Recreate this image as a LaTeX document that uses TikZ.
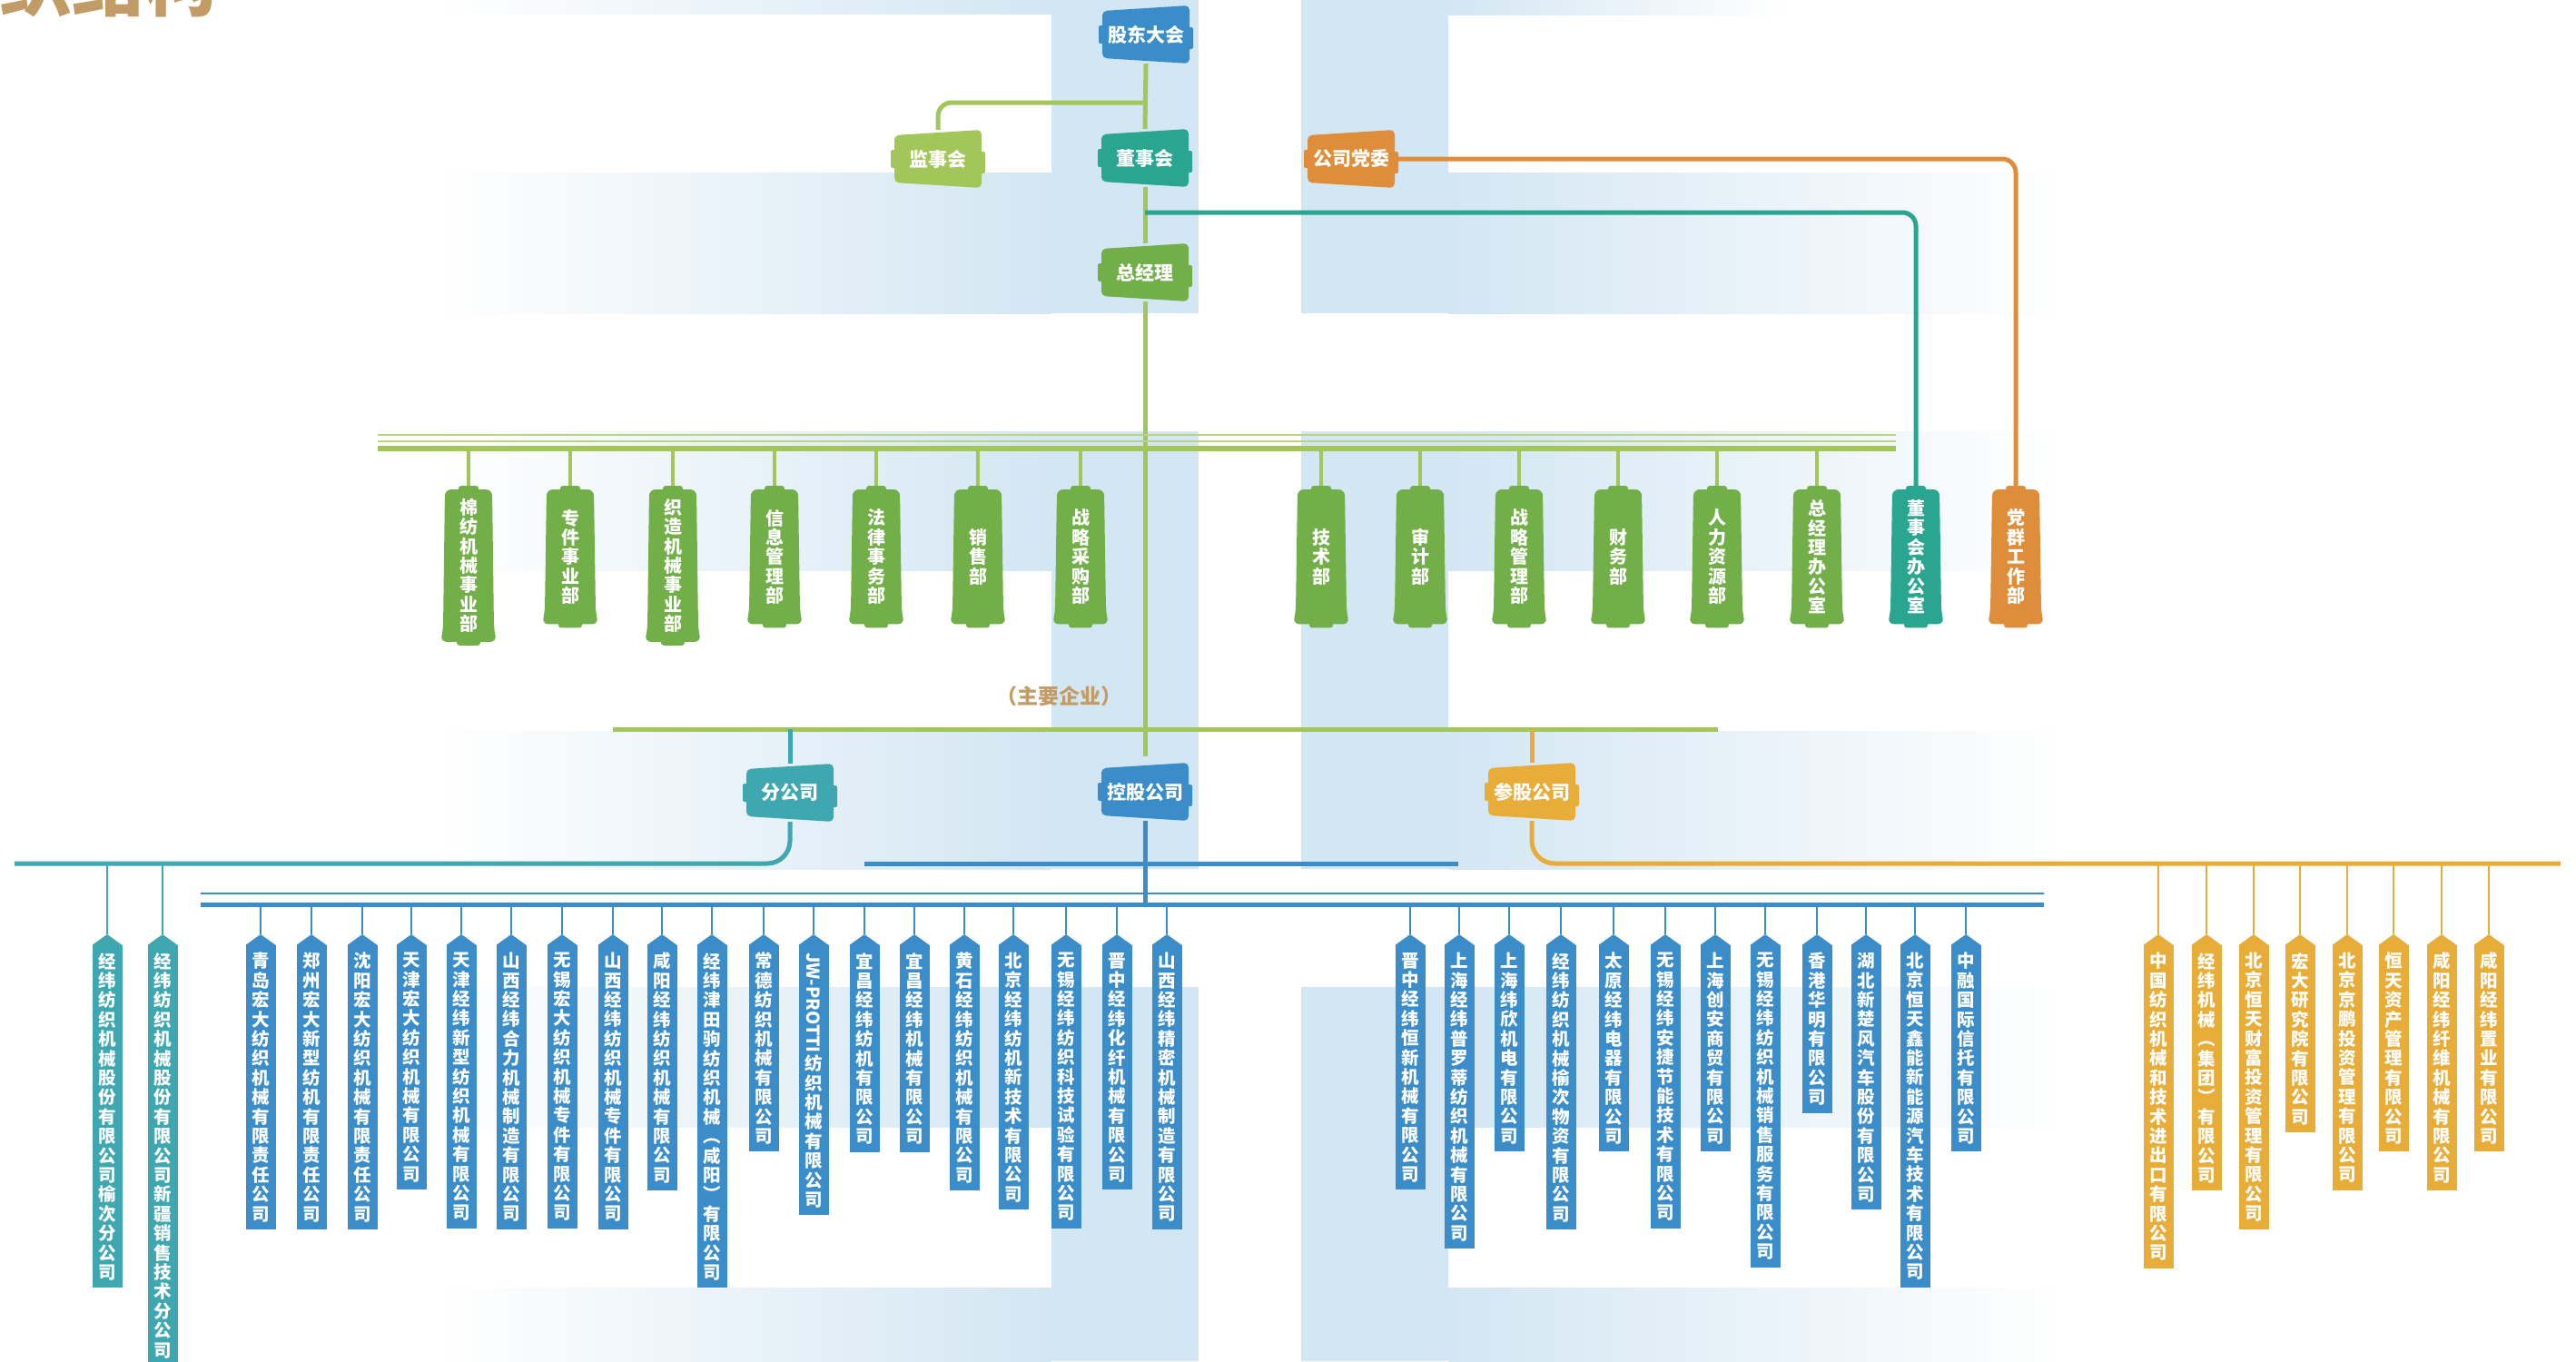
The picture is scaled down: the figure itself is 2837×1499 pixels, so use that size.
\documentclass[tikz,border=0pt]{standalone}
\usepackage{fontspec}
\setmainfont{Noto Sans CJK SC}
\usepackage{graphicx}
\usetikzlibrary{calc}
\pgfdeclarelayer{back}\pgfdeclarelayer{lines}\pgfdeclarelayer{shapes}
\pgfsetlayers{back,lines,shapes,main}
\definecolor{cblue}{HTML}{3A8DC8}
\definecolor{cteal}{HTML}{3FA7B0}
\definecolor{cteal2}{HTML}{2AA58F}
\definecolor{cgreenL}{HTML}{A3C65B}
\definecolor{cgreenD}{HTML}{72AF48}
\definecolor{corange}{HTML}{DE8E3B}
\definecolor{cyel}{HTML}{E8AC38}
\definecolor{ctan}{HTML}{C29C66}
\definecolor{bgb}{HTML}{D3E6F3}
\makeatletter
\newcommand\vst[1]{\vbox{\baselineskip=21.4pt\lineskiplimit=0pt\lineskip=2pt\@tfor\vs@c:=#1\do{\hbox to 1.05em{\hss\vs@c\hss}}}}
\makeatother
\tikzset{
  tabtext/.style={inner sep=0pt, minimum width=97pt, minimum height=64pt, text=white, font=\fontsize{21}{22}\selectfont\bfseries},
  depttext/.style={inner xsep=0pt, inner ysep=10pt, minimum width=54pt, minimum height=148pt, text=white, font=\fontsize{20}{21}\selectfont\bfseries},
  comptext/.style={inner xsep=0pt, inner ysep=8pt, minimum width=33pt, text=white, font=\fontsize{19.5}{21}\selectfont\bfseries},
  gline/.style={draw=cgreenL, line width=5pt},
  gstem/.style={draw=cgreenL, line width=4pt},
  gthin/.style={draw=cgreenL!75, line width=2.5pt},
  tline/.style={draw=cteal, line width=5pt},
  tstem/.style={draw=cteal, line width=2.5pt},
  t2line/.style={draw=cteal2, line width=5pt},
  oline/.style={draw=corange, line width=5pt},
  yline/.style={draw=cyel, line width=5pt},
  ystem/.style={draw=cyel, line width=2.5pt},
  bline/.style={draw=cblue, line width=5pt},
  bthin/.style={draw=cblue, line width=2pt},
  bstem/.style={draw=cblue, line width=2.5pt},
}
\newcommand\tablet[5]{%
  \node[tabtext] (#1) at (#2,#3) {#5};
  \begin{pgfonlayer}{shapes}
  \fill[#4, rounded corners=5pt, shift={(#1.center)}] (-48,-26) -- (48,-32) -- (48,32) -- (-48,26) -- cycle;
  \fill[#4, rounded corners=2pt, shift={(#1.center)}] (-52,-10) rectangle (-44,10);
  \fill[#4, rounded corners=2pt, shift={(#1.center)}] (44,-8) rectangle (52,16);
  \end{pgfonlayer}}
\newcommand\dept[4]{%
  \node[depttext, anchor=north] (#1) at (#2,539) {\vst{#4}};
  \begin{pgfonlayer}{shapes}
  \fill[#3, rounded corners=7pt] ([xshift=-26pt]#1.north) -- ([xshift=26pt]#1.north) -- ([xshift=28pt,yshift=14pt]#1.south) -- ([xshift=31pt]#1.south) -- ([xshift=-31pt]#1.south) -- ([xshift=-28pt,yshift=14pt]#1.south) -- cycle;
  \fill[#3, rounded corners=3pt] ([xshift=-11pt, yshift=4pt]#1.north) rectangle ([xshift=11pt,yshift=-6pt]#1.north);
  \fill[#3, rounded corners=3pt] ([xshift=-13pt, yshift=6pt]#1.south) rectangle ([xshift=13pt,yshift=-4pt]#1.south);
  \end{pgfonlayer}}
\newcommand\comp[4]{%
  \node[comptext, fill=#3, anchor=north] (#1) at (#2,1041) {\vst{#4}};
  \fill[#3] (#1.north west) -- ([yshift=12pt]#1.north) -- (#1.north east) -- cycle;}
\begin{document}
\begin{tikzpicture}[x=1pt, y=-1pt]
\useasboundingbox (0,0) rectangle (2837,1499);
% background
\begin{pgfonlayer}{back}
\fill[white] (0,0) rectangle (2837,1499);
\shade[left color=white, right color=bgb] (477,0) rectangle (1158,15);
\shade[left color=bgb, right color=white] (1595,0) rectangle (1970,16);
\foreach \a/\b in {190/345, 475/628, 805/957, 1087/1241, 1418/1499} {
  \shade[left color=white, right color=bgb] (477,\a) rectangle (1158,\b);
  \shade[left color=bgb, right color=white] (1595,\a) rectangle (2276,\b);
}
\foreach \a/\b in {0/345, 475/957, 1087/1499} {
  \fill[bgb] (1158,\a) rectangle (1320,\b);
  \fill[bgb] (1433,\a) rectangle (1595,\b);
}
\end{pgfonlayer}
% title
\node[anchor=base east, text=ctan, font=\fontsize{80}{80}\selectfont\bfseries, inner sep=0pt] (title) at (240,12) {组织结构};
% top nodes
\tablet{gudong}{1262}{38}{cblue}{股东大会}
\tablet{jianshi}{1033}{175}{cgreenL}{监事会}
\tablet{dongshi}{1261}{174}{cteal2}{董事会}
\tablet{dangwei}{1488}{175}{corange}{公司党委}
\tablet{zjl}{1261}{300}{cgreenD}{总经理}
\tablet{fen}{870}{873}{cteal}{分公司}
\tablet{konggu}{1261}{872}{cblue}{控股公司}
\tablet{cangu}{1687}{872}{cyel}{参股公司}
\node[text=ctan, font=\fontsize{23}{24}\selectfont\bfseries] (zyqy) at (1166,767) {（主要企业）};
% departments
\dept{d1}{516}{cgreenD}{棉纺机械事业部}
\dept{d2}{628}{cgreenD}{专件事业部}
\dept{d3}{741}{cgreenD}{织造机械事业部}
\dept{d4}{853}{cgreenD}{信息管理部}
\dept{d5}{965}{cgreenD}{法律事务部}
\dept{d6}{1077}{cgreenD}{销售部}
\dept{d7}{1190}{cgreenD}{战略采购部}
\dept{d8}{1455}{cgreenD}{技术部}
\dept{d9}{1564}{cgreenD}{审计部}
\dept{d10}{1673}{cgreenD}{战略管理部}
\dept{d11}{1782}{cgreenD}{财务部}
\dept{d12}{1891}{cgreenD}{人力资源部}
\dept{d13}{2001}{cgreenD}{总经理办公室}
\dept{d14}{2110}{cteal2}{董事会办公室}
\dept{d15}{2220}{corange}{党群工作部}
% branch companies
\comp{t1}{118}{cteal}{经纬纺织机械股份有限公司榆次分公司}
\comp{t2}{179}{cteal}{经纬纺织机械股份有限公司新疆销售技术分公司}
% holding companies
\comp{b1}{287}{cblue}{青岛宏大纺织机械有限责任公司}
\comp{b2}{343}{cblue}{郑州宏大新型纺机有限责任公司}
\comp{b3}{399}{cblue}{沈阳宏大纺织机械有限责任公司}
\comp{b4}{453}{cblue}{天津宏大纺织机械有限公司}
\comp{b5}{508}{cblue}{天津经纬新型纺织机械有限公司}
\comp{b6}{563}{cblue}{山西经纬合力机械制造有限公司}
\comp{b7}{619}{cblue}{无锡宏大纺织机械专件有限公司}
\comp{b8}{675}{cblue}{山西经纬纺织机械专件有限公司}
\comp{b9}{729}{cblue}{咸阳经纬纺织机械有限公司}
\comp{b10}{784}{cblue}{经纬津田驹纺织机械︵咸阳︶有限公司}
\comp{b11}{841}{cblue}{常德纺织机械有限公司}
\comp{b12}{896}{cblue}{{\rotatebox[origin=c]{-90}{JW-PROTTI}}纺织机械有限公司}
\comp{b13}{952}{cblue}{宜昌经纬纺机有限公司}
\comp{b14}{1007}{cblue}{宜昌经纬机械有限公司}
\comp{b15}{1062}{cblue}{黄石经纬纺织机械有限公司}
\comp{b16}{1116}{cblue}{北京经纬纺机新技术有限公司}
\comp{b17}{1174}{cblue}{无锡经纬纺织科技试验有限公司}
\comp{b18}{1230}{cblue}{晋中经纬化纤机械有限公司}
\comp{b19}{1285}{cblue}{山西经纬精密机械制造有限公司}
\comp{r1}{1553}{cblue}{晋中经纬恒新机械有限公司}
\comp{r2}{1607}{cblue}{上海经纬普罗蒂纺织机械有限公司}
\comp{r3}{1662}{cblue}{上海纬欣机电有限公司}
\comp{r4}{1719}{cblue}{经纬纺织机械榆次物资有限公司}
\comp{r5}{1777}{cblue}{太原经纬电器有限公司}
\comp{r6}{1834}{cblue}{无锡经纬安捷节能技术有限公司}
\comp{r7}{1889}{cblue}{上海创安商贸有限公司}
\comp{r8}{1944}{cblue}{无锡经纬纺织机械销售服务有限公司}
\comp{r9}{2001}{cblue}{香港华明有限公司}
\comp{r10}{2055}{cblue}{湖北新楚风汽车股份有限公司}
\comp{r11}{2109}{cblue}{北京恒天鑫能新能源汽车技术有限公司}
\comp{r12}{2165}{cblue}{中融国际信托有限公司}
% associated companies
\comp{o1}{2377}{cyel}{中国纺织机械和技术进出口有限公司}
\comp{o2}{2430}{cyel}{经纬机械︵集团︶有限公司}
\comp{o3}{2482}{cyel}{北京恒天财富投资管理有限公司}
\comp{o4}{2533}{cyel}{宏大研究院有限公司}
\comp{o5}{2585}{cyel}{北京京鹏投资管理有限公司}
\comp{o6}{2636}{cyel}{恒天资产管理有限公司}
\comp{o7}{2689}{cyel}{咸阳经纬纤维机械有限公司}
\comp{o8}{2741}{cyel}{咸阳经纬置业有限公司}
% connectors
\coordinate (jbr) at (1261,113);
\coordinate (tbr) at (1261,234);
\coordinate (dbus) at (0,494);
\coordinate (zy) at (0,803);
\coordinate (tbusL) at (16,951);
\coordinate (ybusR) at (2820,951);
\coordinate (bbus) at (0,996);
\coordinate (mbus) at (0,951);
\begin{pgfonlayer}{lines}
\draw[gline] (gudong.south) -- (dongshi.north);
\draw[gline, rounded corners=15pt] (jbr) -| (jianshi.north);
\draw[gline] (dongshi.south) -- (zjl.north);
\draw[gline] (zjl.south) -- ([yshift=7pt]konggu.north);
\draw[t2line, rounded corners=15pt] (tbr) -| ([yshift=4pt]d14.north);
\draw[oline, rounded corners=15pt] (dangwei.east) -| ([yshift=4pt]d15.north);
% department bus
\draw[gthin] (416,479) -- (2088,479);
\draw[gthin] (416,486) -- (2088,486);
\draw[gline, line width=6pt] (416,494) -- (2088,494);
\foreach \i in {1,...,13} {\draw[gstem] (d\i.north |- dbus) -- ([yshift=4pt]d\i.north);}
% main enterprises bar
\draw[gline] (675,803) -- (1892,803);
\draw[tline] (fen.north |- zy) -- (fen.north);
\draw[yline] (cangu.north |- zy) -- (cangu.north);
\draw[tline, rounded corners=25pt] (fen.south) |- (tbusL);
\draw[yline, rounded corners=25pt] (cangu.south) |- (ybusR);
\draw[bline] (konggu.south) -- (konggu.south |- bbus);
\draw[bline] (952,951) -- (1606,951);
\draw[bthin] (221,984) -- (2251,984);
\draw[bline] (221,996) -- (2251,996);
\foreach \i in {1,2} {\draw[tstem] (t\i.north |- mbus) -- ([yshift=12pt]t\i.north);}
\foreach \i in {1,...,19} {\draw[bstem] (b\i.north |- bbus) -- ([yshift=12pt]b\i.north);}
\foreach \i in {1,...,12} {\draw[bstem] (r\i.north |- bbus) -- ([yshift=12pt]r\i.north);}
\foreach \i in {1,...,8} {\draw[ystem] (o\i.north |- mbus) -- ([yshift=12pt]o\i.north);}
\end{pgfonlayer}
\end{tikzpicture}
\end{document}
